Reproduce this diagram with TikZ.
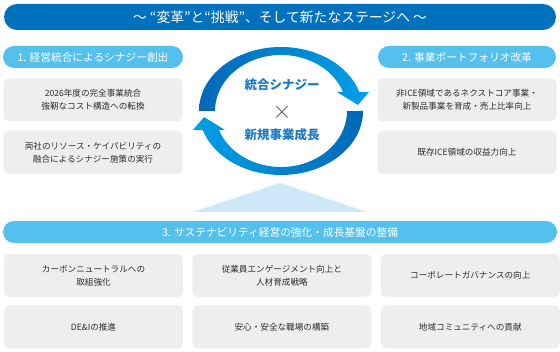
\documentclass[tikz,border=0pt]{standalone}
\usepackage{fontspec}
\setmainfont{Noto Sans CJK JP}
\usepackage{xcolor}
\usepackage{tikz}
\usetikzlibrary{positioning}
\definecolor{navy}{RGB}{0,113,188}
\definecolor{sky}{RGB}{84,192,238}
\definecolor{cardgray}{RGB}{238,238,238}
\definecolor{ink}{RGB}{45,45,45}
\definecolor{arrdark}{RGB}{0,104,183}
\definecolor{arrlight}{RGB}{0,160,233}
\definecolor{tri}{RGB}{207,232,248}
\definecolor{cyc}{RGB}{27,122,196}

\begin{document}
\begin{tikzpicture}[
  x=1pt, y=1pt,
  node distance=9pt and 9pt,
  banner/.style={fill=navy, rounded corners=13pt, minimum width=552pt, minimum height=26pt, inner sep=0pt, text=white, font=\fontsize{13.8}{15}\selectfont},
  pill/.style={fill=sky, rounded corners=11pt, minimum height=22pt, inner sep=0pt, text=white, font=\fontsize{10.7}{12}\selectfont},
  card/.style={fill=cardgray, rounded corners=5pt, minimum width=179pt, minimum height=43pt, inner sep=0pt, text=ink, align=center, font=\fontsize{8.6}{13}\selectfont},
  cyctxt/.style={text=cyc, font=\fontsize{12.5}{14}\selectfont\bfseries},
]
\useasboundingbox (0,0) rectangle (560,352);

% Banner
\node[banner] (title) at (280,335) {～ “変革”と“挑戦”、そして新たなステージへ ～};

% Pillar 1
\node[pill, minimum width=180pt] (h1) at (93,295) {1. 経営統合によるシナジー創出};
\node[card, below=10pt of h1] (l1) {2026年度の完全事業統合\\強靭なコスト構造への転換};
\node[card, below=of l1] (l2) {両社のリソース・ケイパビリティの\\融合によるシナジー施策の実行};

% Pillar 2
\node[pill, minimum width=178pt] (h2) at (467,295) {2. 事業ポートフォリオ改革};
\node[card, below=10pt of h2] (r1) {非ICE領域であるネクストコア事業・\\新製品事業を育成・売上比率向上};
\node[card, below=of r1] (r2) {既存ICE領域の収益力向上};

% Cycle
\coordinate (ctr) at (281,241);
\shade[left color=arrdark, right color=arrlight]
  (199,241) arc[start angle=180, end angle=17.3, x radius=82, y radius=64]
  -- (369,260) -- (358,247) -- (337,260)
  -- (343.1,260) arc[start angle=19.8, end angle=180, x radius=66, y radius=56] -- cycle;
\shade[left color=arrlight, right color=arrdark]
  (363,241) arc[start angle=0, end angle=-162.7, x radius=82, y radius=64]
  -- (193,222) -- (204,235) -- (225,222)
  -- (218.9,222) arc[start angle=-160.2, end angle=0, x radius=66, y radius=56] -- cycle;
\node[cyctxt] (syn) at (282,267) {統合シナジー};
\node[text=black!65, font=\fontsize{28}{28}\selectfont] (cross) at (282,240) {$\times$};
\node[cyctxt] (grow) at (282,217) {新規事業成長};

% Base
\fill[tri] (193,140) -- (280,169) -- (367,140) -- cycle;
\node[pill, minimum width=554pt] (h3) at (280,120) {3. サステナビリティ経営の強化・成長基盤の整備};
\node[card] (b1) at (93.5,76.5) {カーボンニュートラルへの\\取組強化};
\node[card, right=of b1] (b2) {従業員エンゲージメント向上と\\人材育成戦略};
\node[card, right=of b2] (b3) {コーポレートガバナンスの向上};
\node[card, below=8pt of b1] (b4) {DE\&Iの推進};
\node[card, below=8pt of b2] (b5) {安心・安全な職場の構築};
\node[card, below=8pt of b3] (b6) {地域コミュニティへの貢献};
\end{tikzpicture}
\end{document}
